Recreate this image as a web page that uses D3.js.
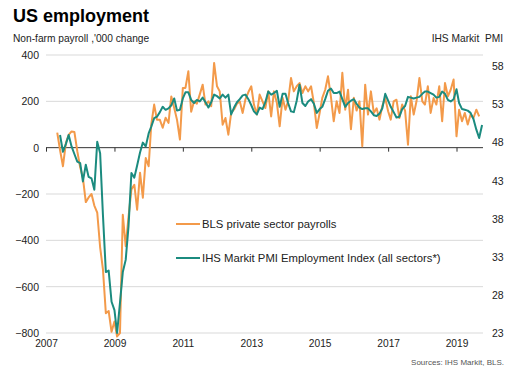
<!DOCTYPE html>
<html>
<head>
<meta charset="utf-8">
<script src="https://cdn.jsdelivr.net/npm/d3@7"></script>
<style>
  body { margin: 0; background: #fff; }
  svg { font-family: "Liberation Sans", Arial, sans-serif; }
</style>
</head>
<body>
<svg id="chart" width="519" height="377"></svg>
<script>
// BLS private sector payrolls, '000 change, monthly from Jun 2007
const payrollStart = new Date(2007, 5, 1);
const payrolls = [
  65, -10, -80, 20, 55, 70, 68,
  -15, -85, -130, -235, -215, -200, -250, -280, -430, -525, -715, -705,
  -795, -750, -815, -800, -290, -425, -300, -180, -160, -268, -108, -216,
  -45, -80, 100, 186, 120, 120, 86, 129, 107, 221, 171, 120,
  35, 258, 258, 330, 155, 200, 190, 230, 272, 186, 200, 179,
  366, 265, 243, 99, 128, 56, 150, 165, 190, 200, 150, 210,
  240, 265, 186, 143, 229, 200, 171, 243, 135, 243, 193, 92,
  215, 164, 200, 301, 243, 265, 279, 236, 265, 243, 265, 193,
  85, 150, 215, 250, 308, 220, 114, 200, 150, 323, 164, 250,
  80, 215, 160, 200, 6, 272, 143, 243, 150, 170, 121, 180,
  214, 157, 121, 200, 207, 128, 186, 160, 13, 222, 143, 200,
  301, 200, 186, 265, 150, 214, 186, 265, 114, 279, 222, 250,
  294, 49, 164, 114, 150, 100, 143, 128, 164, 135
];

// IHS Markit PMI Employment Index (all sectors), monthly from Jul 2007
const pmiStart = new Date(2007, 6, 1);
const pmi = [
  49.0, 46.8, 47.8, 49.0, 47.5, 46.5,
  45.5, 45.3, 42.9, 45.1, 43.5, 43.3, 41.8, 48.1, 46.6, 38.5, 31.0, 31.2,
  27.1, 26.0, 23.0, 27.0, 31.0, 32.6, 37.0, 44.0, 43.4, 45.0, 46.7, 48.0,
  47.5, 49.2, 50.1, 51.2, 51.4, 52.0, 52.7, 52.3, 52.5, 52.9, 53.8, 52.2,
  52.3, 53.8, 54.6, 54.6, 53.6, 53.2, 53.6, 53.4, 53.9, 53.3, 52.6, 53.3,
  54.3, 54.1, 53.8, 54.3, 53.9, 54.3, 51.7, 52.6, 53.3, 53.7, 54.2, 54.3,
  53.7, 52.9, 52.1, 51.7, 52.6, 52.4, 53.3, 54.7, 54.3, 54.5, 54.8, 52.7,
  54.4, 54.4, 53.2, 52.1, 52.0, 53.5, 55.6, 53.2, 52.8, 53.4, 53.7, 53.1,
  51.9, 52.4, 52.7, 53.7, 54.8, 55.1, 54.5, 54.5, 54.7, 53.7, 52.7, 53.2,
  53.5, 53.7, 53.1, 52.6, 52.4, 52.5, 52.5, 52.1, 51.6, 51.5, 51.8, 52.5,
  54.4, 53.5, 52.7, 52.0, 51.3, 51.4, 52.4, 52.8, 54.0, 53.9, 53.8, 53.9,
  54.0, 54.4, 54.7, 54.7, 54.5, 54.3, 53.9, 54.0, 54.7, 54.4, 53.6, 53.4,
  53.7, 55.0, 53.2, 52.4, 52.3, 52.2, 51.9, 51.1, 49.7, 48.6, 50.3
];

const leftTicks = [400, 200, 0, -200, -400, -600, -800];
const rightTicks = [58, 53, 48, 43, 38, 33, 28, 23];
const yearTicks = [2007, 2009, 2011, 2013, 2015, 2017, 2019];
const seriesNames = ['BLS private sector payrolls', 'IHS Markit PMI Employment Index (all sectors*)'];
const colors = ['#f39a4a', '#1b8b7f'];

const svg = d3.select('#chart');
const plot = { left: 46, right: 483, top: 55, bottom: 333 };

const toDates = (start, vals) => vals.map((v, i) => ({ date: d3.timeMonth.offset(start, i), value: v }));
const payrollData = toDates(payrollStart, payrolls);
const pmiData = toDates(pmiStart, pmi);

// year ticks sit one month in (the source chart plots each month a slot early)
const x = d3.scaleTime()
  .domain([new Date(2007, 1, 1), new Date(2019, 1, 1)])
  .range([46, 456.5]);

const y = d3.scaleLinear().domain([-800, 400]).range([plot.bottom, plot.top]);
const y2 = d3.scaleLinear().domain([23, 59.5]).range([plot.bottom, plot.top]);

// title and subtitles
svg.append('text')
  .attr('x', 13).attr('y', 22)
  .attr('font-size', 18).attr('font-weight', 'bold').attr('fill', '#000')
  .text('US employment');

svg.append('text')
  .attr('x', 13).attr('y', 42)
  .attr('font-size', 10.2).attr('fill', '#222')
  .text("Non-farm payroll ,'000 change");

svg.append('text')
  .attr('x', 503).attr('y', 42)
  .attr('font-size', 10.2).attr('fill', '#222')
  .attr('text-anchor', 'end')
  .text('IHS Markit  PMI')
  .attr('xml:space', 'preserve');

// gridlines
svg.append('g')
  .selectAll('line')
  .data(leftTicks.filter(d => d !== 0))
  .enter()
  .append('line')
  .attr('x1', plot.left).attr('x2', plot.right)
  .attr('y1', d => y(d)).attr('y2', d => y(d))
  .attr('stroke', '#d9d9d9').attr('stroke-width', 1);

// left axis labels
svg.append('g')
  .attr('transform', `translate(${plot.left - 7},0)`)
  .call(d3.axisLeft(y).tickValues(leftTicks).tickSize(0).tickPadding(0))
  .call(g => g.select('.domain').remove())
  .call(g => g.selectAll('text')
    .attr('font-size', 10.5).attr('fill', '#222')
    .attr('font-family', '"Liberation Sans", Arial, sans-serif'));

// right axis labels
svg.append('g')
  .attr('transform', `translate(${plot.right + 9},0)`)
  .call(d3.axisRight(y2).tickValues(rightTicks).tickSize(0).tickPadding(0))
  .call(g => g.select('.domain').remove())
  .call(g => g.selectAll('text')
    .attr('font-size', 10.5).attr('fill', '#222')
    .attr('font-family', '"Liberation Sans", Arial, sans-serif'));

// zero line with year ticks
svg.append('line')
  .attr('x1', plot.left).attr('x2', plot.right)
  .attr('y1', y(0)).attr('y2', y(0))
  .attr('stroke', '#333').attr('stroke-width', 1);

svg.append('g')
  .attr('transform', `translate(0,${y(0)})`)
  .call(d3.axisBottom(x)
    .tickValues(yearTicks.map(yr => new Date(yr, 1, 1)))
    .tickSize(4)
    .tickFormat(() => ''))
  .call(g => g.select('.domain').remove())
  .call(g => g.selectAll('line').attr('stroke', '#333'));

// year labels along the bottom
svg.append('g')
  .attr('transform', `translate(0,${plot.bottom + 3})`)
  .call(d3.axisBottom(x)
    .tickValues(yearTicks.map(yr => new Date(yr, 1, 1)))
    .tickSize(0)
    .tickPadding(4)
    .tickFormat(d => d.getFullYear()))
  .call(g => g.select('.domain').remove())
  .call(g => g.selectAll('text')
    .attr('font-size', 10.2).attr('fill', '#222')
    .attr('font-family', '"Liberation Sans", Arial, sans-serif'));

// series
const payrollLine = d3.line().x(d => x(d.date)).y(d => y(d.value));
const pmiLine = d3.line().x(d => x(d.date)).y(d => y2(d.value));

svg.append('path')
  .datum(payrollData)
  .attr('fill', 'none')
  .attr('stroke', colors[0])
  .attr('stroke-width', 2)
  .attr('stroke-linejoin', 'round')
  .attr('d', payrollLine);

svg.append('path')
  .datum(pmiData)
  .attr('fill', 'none')
  .attr('stroke', colors[1])
  .attr('stroke-width', 2)
  .attr('stroke-linejoin', 'round')
  .attr('d', pmiLine);

// legend
const legend = svg.append('g')
  .selectAll('g')
  .data(seriesNames)
  .enter()
  .append('g')
  .attr('transform', (d, i) => `translate(176,${224 + i * 34})`);

legend.append('line')
  .attr('x1', 0).attr('x2', 24)
  .attr('stroke', (d, i) => colors[i])
  .attr('stroke-width', 2);

legend.append('text')
  .attr('x', 26)
  .attr('dy', '0.35em')
  .attr('font-size', 11.3)
  .attr('fill', '#222')
  .text(d => d);

// source note
svg.append('text')
  .attr('x', 504).attr('y', 365)
  .attr('text-anchor', 'end')
  .attr('font-size', 8)
  .attr('fill', '#555')
  .text('Sources: IHS Markit, BLS.');
</script>
</body>
</html>
